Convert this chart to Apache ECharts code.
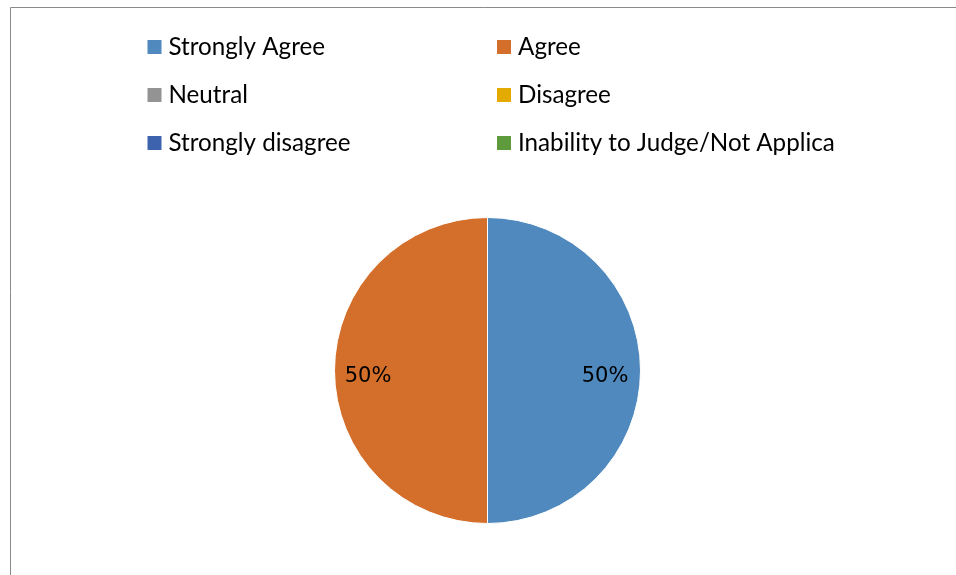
<!DOCTYPE html>
<html>
<head>
<meta charset="utf-8">
<script src="https://cdn.jsdelivr.net/npm/echarts@6/dist/echarts.min.js"></script>
<style>
html,body{margin:0;padding:0;background:#fff;}
#chart{width:956px;height:575px;}
</style>
</head>
<body>
<div id="chart"></div>
<script>
const categories = ["Strongly Agree", "Agree", "Neutral", "Disagree", "Strongly disagree", "Inability to Judge/Not Applica"];
const shares = [50, 50, 0, 0, 0, 0];
const colors = ["#4F89BD", "#D36F2B", "#939393", "#E3AB00", "#3D63AE", "#5E9B3D"];
const legendLeftColumn = ["Strongly Agree", "Neutral", "Strongly disagree"];
const legendRightColumn = ["Agree", "Disagree", "Inability to Judge/Not Applica"];

const chart = echarts.init(document.getElementById('chart'));
const legendCommon = {
  orient: 'vertical',
  top: 35,
  padding: 0,
  itemWidth: 14,
  itemHeight: 14,
  itemGap: 24,
  icon: 'rect',
  selectedMode: false,
  itemStyle: { borderWidth: 0 },
  textStyle: { fontFamily: 'Lato', fontSize: 24.2, lineHeight: 24, color: '#000', padding: [0, 0, 0, 2] }
};
chart.setOption({
  animation: false,
  color: colors,
  graphic: [{
    type: 'rect',
    shape: { x: 10.5, y: 7.5, width: 1200, height: 1000 },
    style: { fill: 'none', stroke: '#8a8a8a', lineWidth: 1 },
    silent: true
  }],
  legend: [
    Object.assign({ left: 147.5, data: legendLeftColumn }, legendCommon),
    Object.assign({ left: 497, data: legendRightColumn }, legendCommon)
  ],
  series: [{
    type: 'pie',
    center: [487.5, 370.5],
    radius: [0, 153],
    startAngle: 90,
    clockwise: true,
    avoidLabelOverlap: false,
    itemStyle: { borderColor: '#fff', borderWidth: 1 },
    label: {
      show: true,
      position: 'inside',
      fontFamily: 'DejaVu Sans',
      fontSize: 21,
      color: '#000',
      formatter: p => p.value > 0 ? Math.round(p.percent) + '%' : ''
    },
    labelLine: { show: false },
    labelLayout: function (params) {
      const cx = params.labelRect.x + params.labelRect.width / 2;
      const dir = cx > 487.5 ? 1 : -1;
      return { dx: dir * (dir > 0 ? 38 : 40), dy: 6 };
    },
    emphasis: { disabled: true },
    data: categories.map((c, i) => ({ name: c, value: shares[i] }))
  }]
});
</script>
</body>
</html>
